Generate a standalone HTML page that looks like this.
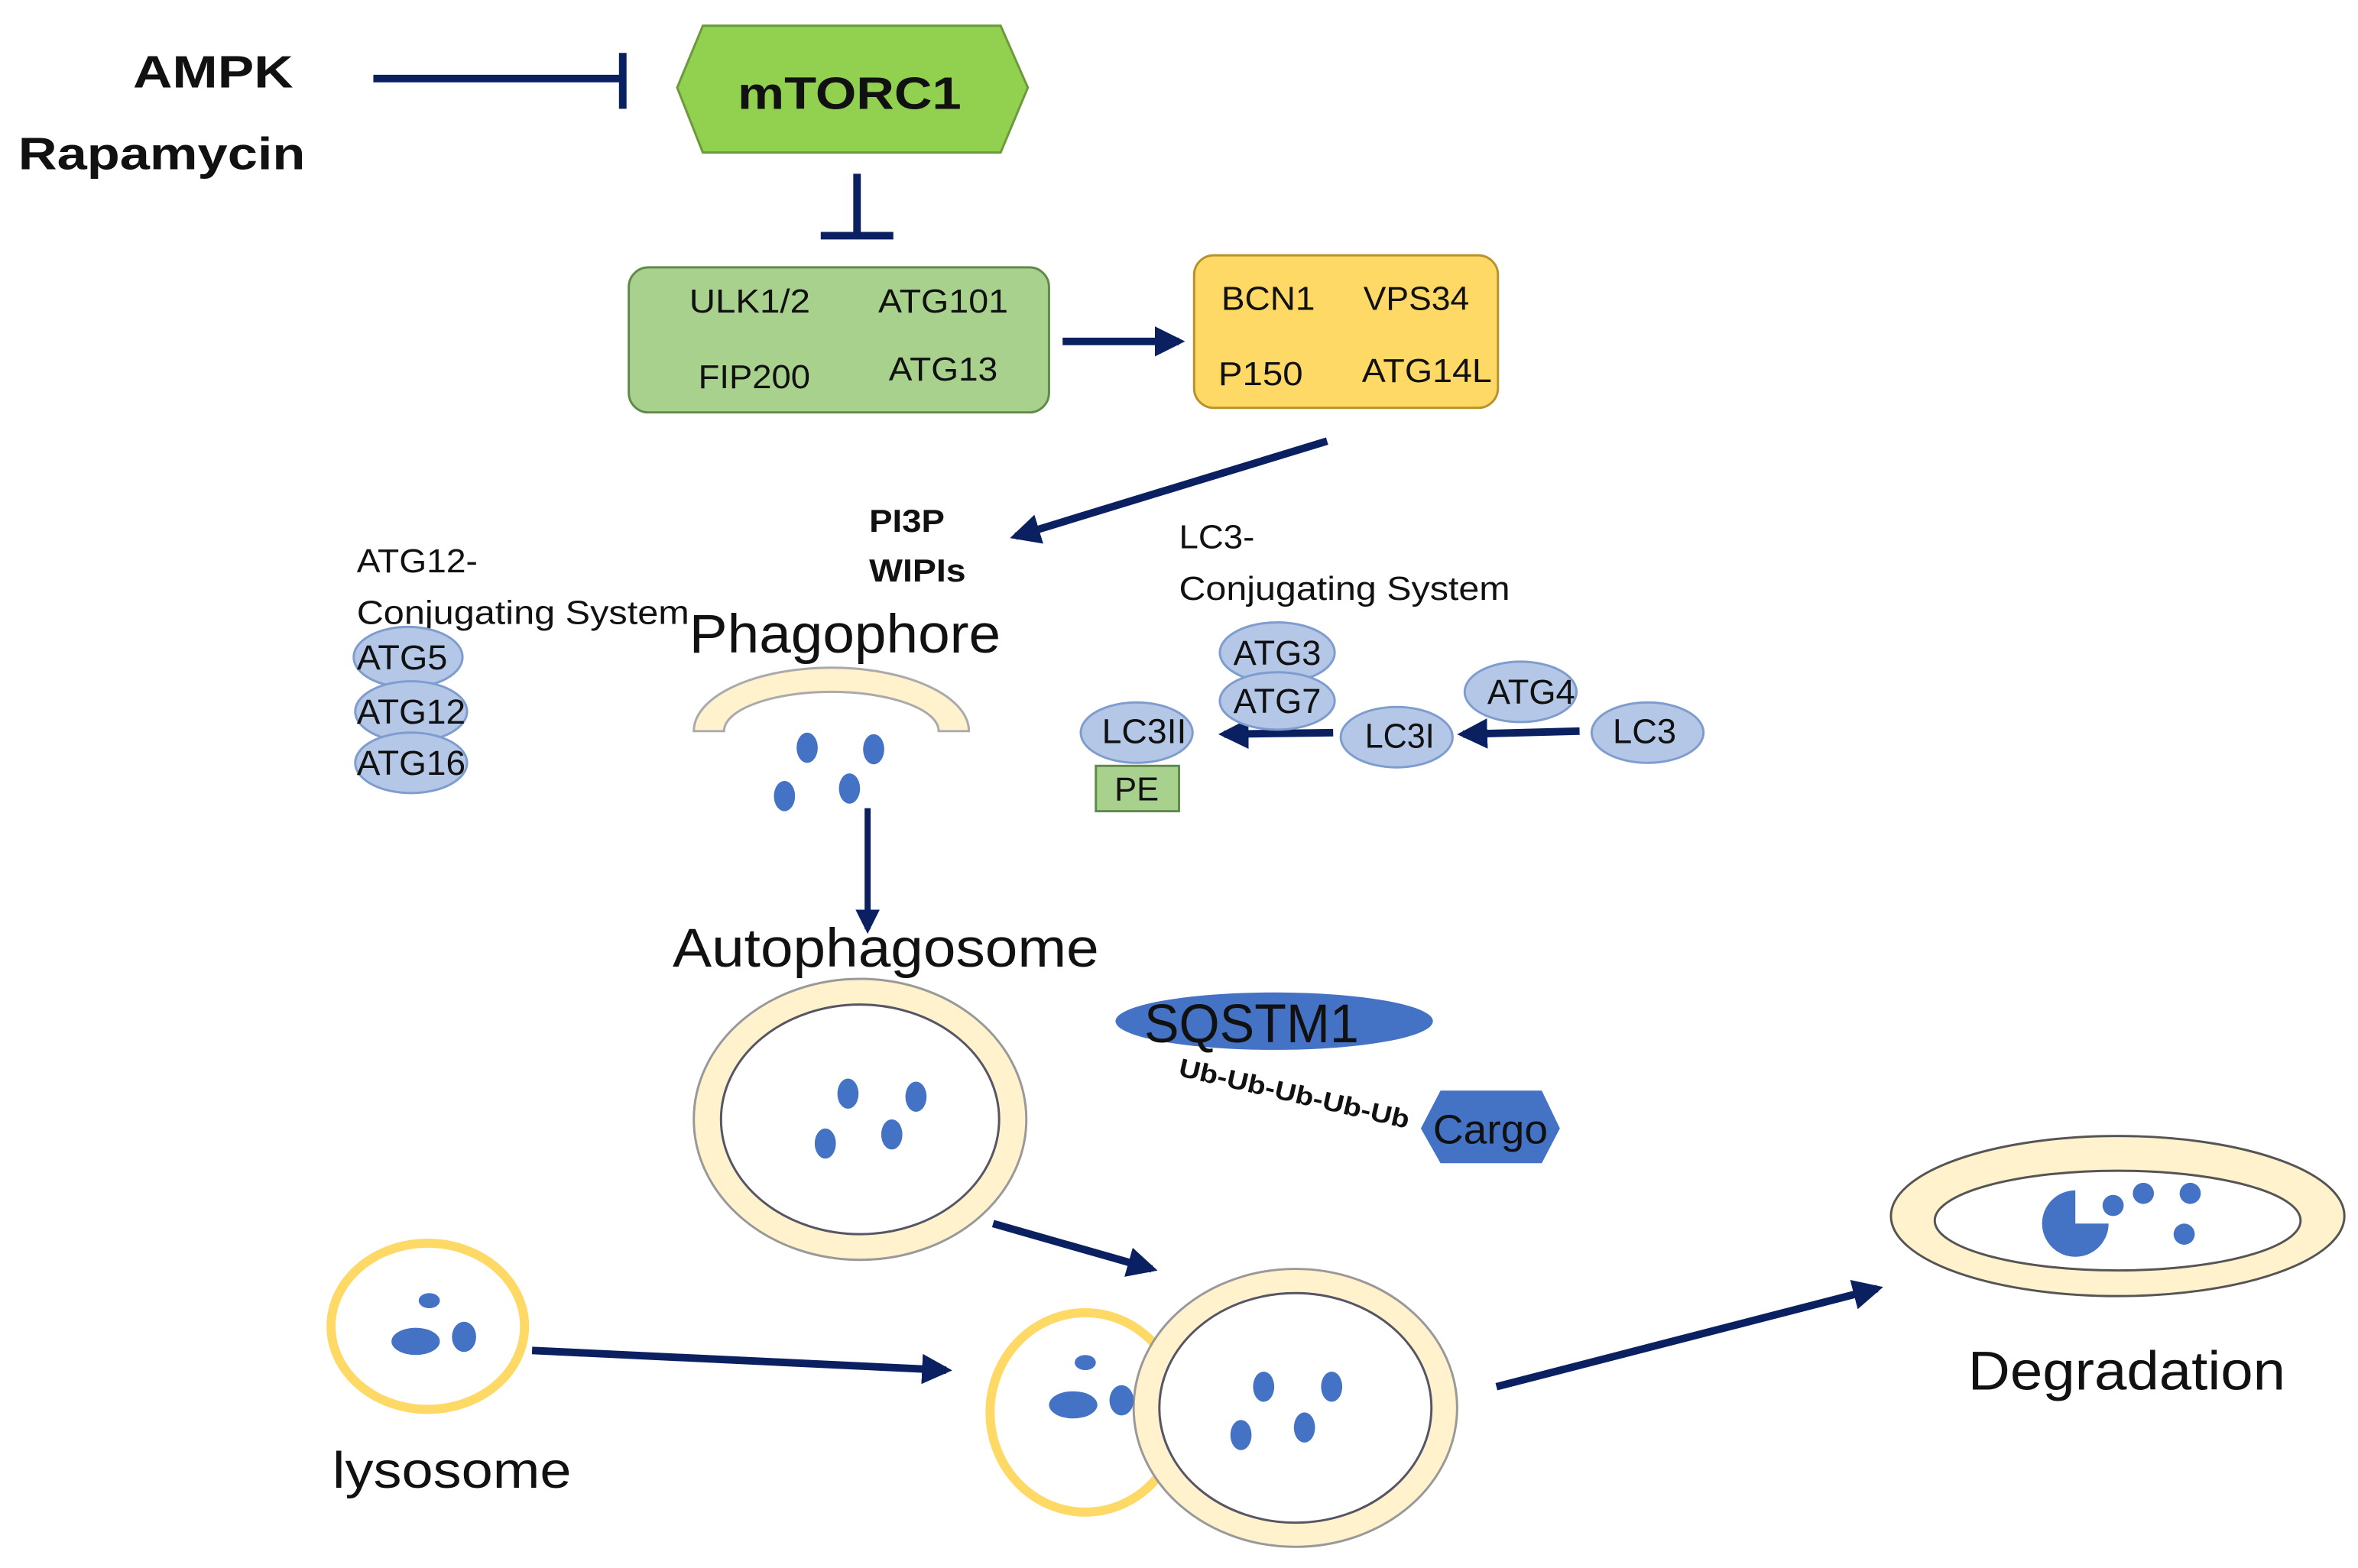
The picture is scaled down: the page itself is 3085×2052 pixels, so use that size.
<!DOCTYPE html>
<html><head><meta charset="utf-8"><style>html,body{margin:0;padding:0;background:#fff}svg{display:block}text{font-family:"Liberation Sans",sans-serif;fill:#111}</style></head><body>
<svg width="3085" height="2052" viewBox="0 0 1560 1038" preserveAspectRatio="none" xmlns="http://www.w3.org/2000/svg">
<defs>
<marker id="ah" viewBox="0 0 10 10" refX="8" refY="5" markerWidth="4" markerHeight="4" orient="auto" markerUnits="strokeWidth"><path d="M0,0 L10,5 L0,10 z" fill="#0b2060"/></marker>
</defs>
<g stroke="#0b2060" stroke-width="5" fill="none">
<line x1="247" y1="52" x2="412" y2="52"/><line x1="412" y1="35" x2="412" y2="72"/>
<line x1="567" y1="115" x2="567" y2="155"/><line x1="543" y1="156" x2="591" y2="156"/>
<line x1="703" y1="226" x2="780" y2="226" marker-end="url(#ah)"/>
<line x1="878" y1="292" x2="672" y2="355" marker-end="url(#ah)"/>
<line x1="1045" y1="484" x2="968" y2="486" marker-end="url(#ah)"/>
<line x1="882" y1="485" x2="810" y2="486" marker-end="url(#ah)"/>
<line x1="574" y1="535" x2="574" y2="615" stroke-width="4" marker-end="url(#ah)"/>
<line x1="657" y1="810" x2="762" y2="840" marker-end="url(#ah)"/>
<line x1="352" y1="894" x2="626" y2="907" marker-end="url(#ah)"/>
<line x1="990" y1="918" x2="1242" y2="853" marker-end="url(#ah)"/>
</g>
<text x="88" y="58" font-size="30" font-weight="bold" textLength="106" lengthAdjust="spacingAndGlyphs">AMPK</text>
<text x="12" y="112" font-size="30" font-weight="bold" textLength="190" lengthAdjust="spacingAndGlyphs">Rapamycin</text>
<polygon points="448,58 465,17 662,17 680,58 662,101 465,101" fill="#92d050" stroke="#6a9a3a" stroke-width="1.5"/>
<text x="562" y="72" font-size="30" font-weight="bold" text-anchor="middle" textLength="148" lengthAdjust="spacingAndGlyphs">mTORC1</text>
<rect x="416" y="177" width="278" height="96" rx="13" fill="#a9d18e" stroke="#5f8a4a" stroke-width="1.5"/>
<g font-size="22"><text x="456" y="207" textLength="80" lengthAdjust="spacingAndGlyphs">ULK1/2</text><text x="581" y="207" textLength="86" lengthAdjust="spacingAndGlyphs">ATG101</text><text x="462" y="257" textLength="74" lengthAdjust="spacingAndGlyphs">FIP200</text><text x="588" y="252" textLength="72" lengthAdjust="spacingAndGlyphs">ATG13</text></g>
<rect x="790" y="169" width="201" height="101" rx="13" fill="#ffd966" stroke="#b8912a" stroke-width="1.5"/>
<g font-size="22"><text x="808" y="205" textLength="62" lengthAdjust="spacingAndGlyphs">BCN1</text><text x="902" y="205" textLength="70" lengthAdjust="spacingAndGlyphs">VPS34</text><text x="806" y="255" textLength="56" lengthAdjust="spacingAndGlyphs">P150</text><text x="901" y="253" textLength="86" lengthAdjust="spacingAndGlyphs">ATG14L</text></g>
<text x="575" y="352" font-size="21" font-weight="bold" textLength="50" lengthAdjust="spacingAndGlyphs">PI3P</text>
<text x="575" y="385" font-size="21" font-weight="bold" textLength="64" lengthAdjust="spacingAndGlyphs">WIPIs</text>
<text x="236" y="379" font-size="22" textLength="80" lengthAdjust="spacingAndGlyphs">ATG12-</text>
<text x="236" y="413" font-size="22" textLength="220" lengthAdjust="spacingAndGlyphs">Conjugating System</text>
<text x="780" y="363" font-size="22" textLength="50" lengthAdjust="spacingAndGlyphs">LC3-</text>
<text x="780" y="397" font-size="22" textLength="219" lengthAdjust="spacingAndGlyphs">Conjugating System</text>
<text x="456" y="432" font-size="36" textLength="206" lengthAdjust="spacingAndGlyphs">Phagophore</text>
<path d="M459,484 A91,42 0 0 1 641,484 L621,484 A71,26 0 0 0 479,484 Z" fill="#fff2cc" stroke="#aaa" stroke-width="1.5"/>
<g fill="#4472c4"><ellipse cx="534" cy="495" rx="7" ry="10"/><ellipse cx="578" cy="496" rx="7" ry="10"/><ellipse cx="519" cy="527" rx="7" ry="10"/><ellipse cx="562" cy="522" rx="7" ry="10"/></g>
<g fill="#b4c7e7" stroke="#7f9ccf" stroke-width="1.5">
<ellipse cx="270" cy="435" rx="36" ry="20"/><ellipse cx="272" cy="471" rx="37" ry="20"/><ellipse cx="272" cy="505" rx="37" ry="20"/>
<ellipse cx="845" cy="432" rx="38" ry="20"/><ellipse cx="845" cy="464" rx="38" ry="19"/>
<ellipse cx="1006" cy="458" rx="37" ry="20"/><ellipse cx="1090" cy="485" rx="37" ry="20"/><ellipse cx="924" cy="488" rx="37" ry="20"/><ellipse cx="752" cy="485" rx="37" ry="20"/>
</g>
<g font-size="23" text-anchor="middle"><text x="266" y="443" textLength="60" lengthAdjust="spacingAndGlyphs">ATG5</text><text x="272" y="479" textLength="72" lengthAdjust="spacingAndGlyphs">ATG12</text><text x="272" y="513" textLength="72" lengthAdjust="spacingAndGlyphs">ATG16</text>
<text x="845" y="440" textLength="58" lengthAdjust="spacingAndGlyphs">ATG3</text><text x="845" y="472" textLength="58" lengthAdjust="spacingAndGlyphs">ATG7</text><text x="1013" y="466" textLength="58" lengthAdjust="spacingAndGlyphs">ATG4</text><text x="1088" y="492" textLength="42" lengthAdjust="spacingAndGlyphs">LC3</text><text x="926" y="495" textLength="46" lengthAdjust="spacingAndGlyphs">LC3I</text><text x="757" y="492" textLength="56" lengthAdjust="spacingAndGlyphs">LC3II</text></g>
<rect x="725" y="507" width="55" height="30" fill="#a9d18e" stroke="#5f8a4a" stroke-width="1.5"/>
<text x="752" y="530" font-size="22" text-anchor="middle">PE</text>
<text x="445" y="640" font-size="36" textLength="282" lengthAdjust="spacingAndGlyphs">Autophagosome</text>
<ellipse cx="569" cy="741" rx="110" ry="93" fill="#fff2cc" stroke="#999" stroke-width="1.5"/>
<ellipse cx="569" cy="741" rx="92" ry="76" fill="#fff" stroke="#556" stroke-width="1.5"/>
<g fill="#4472c4"><ellipse cx="561" cy="724" rx="7" ry="10"/><ellipse cx="606" cy="726" rx="7" ry="10"/><ellipse cx="546" cy="757" rx="7" ry="10"/><ellipse cx="590" cy="751" rx="7" ry="10"/></g>
<ellipse cx="843" cy="676" rx="105" ry="19" fill="#4472c4"/>
<text x="828" y="690" font-size="36" text-anchor="middle" textLength="142" lengthAdjust="spacingAndGlyphs">SQSTM1</text>
<text x="779" y="712" font-size="17" font-weight="bold" transform="rotate(13 779 712)" textLength="156" lengthAdjust="spacingAndGlyphs">Ub-Ub-Ub-Ub-Ub</text>
<polygon points="940,747 953,722 1020,722 1032,747 1020,770 953,770" fill="#4472c4"/>
<text x="986" y="757" font-size="27" text-anchor="middle" textLength="76" lengthAdjust="spacingAndGlyphs">Cargo</text>
<ellipse cx="283" cy="878" rx="64" ry="55" fill="#fff" stroke="#ffd966" stroke-width="6"/>
<g fill="#4472c4"><ellipse cx="284" cy="861" rx="7" ry="5"/><ellipse cx="275" cy="888" rx="16" ry="9"/><ellipse cx="307" cy="885" rx="8" ry="10"/></g>
<text x="220" y="985" font-size="34" textLength="158" lengthAdjust="spacingAndGlyphs">lysosome</text>
<ellipse cx="718" cy="935" rx="63" ry="66" fill="#fff" stroke="#ffd966" stroke-width="6"/>
<ellipse cx="857" cy="932" rx="107" ry="92" fill="#fff2cc" stroke="#999" stroke-width="1.5"/>
<ellipse cx="857" cy="932" rx="90" ry="76" fill="#fff" stroke="#556" stroke-width="1.5"/>
<g fill="#4472c4"><ellipse cx="836" cy="918" rx="7" ry="10"/><ellipse cx="881" cy="918" rx="7" ry="10"/><ellipse cx="821" cy="950" rx="7" ry="10"/><ellipse cx="863" cy="945" rx="7" ry="10"/>
<ellipse cx="718" cy="902" rx="7" ry="5"/><ellipse cx="710" cy="930" rx="16" ry="9"/><ellipse cx="742" cy="927" rx="8" ry="10"/></g>
<text x="1302" y="920" font-size="36" textLength="210" lengthAdjust="spacingAndGlyphs">Degradation</text>
<ellipse cx="1401" cy="805" rx="150" ry="53" fill="#fff2cc" stroke="#555" stroke-width="1.5"/>
<ellipse cx="1401" cy="808" rx="121" ry="33" fill="#fff" stroke="#555" stroke-width="1.5"/>
<g fill="#4472c4">
<path d="M1373,810 L1395,810 A22,22 0 1 1 1373,788 Z"/>
<circle cx="1398" cy="798" r="7"/><circle cx="1418" cy="790" r="7"/><circle cx="1449" cy="790" r="7"/><circle cx="1445" cy="817" r="7"/>
</g>
</svg>
</body></html>
